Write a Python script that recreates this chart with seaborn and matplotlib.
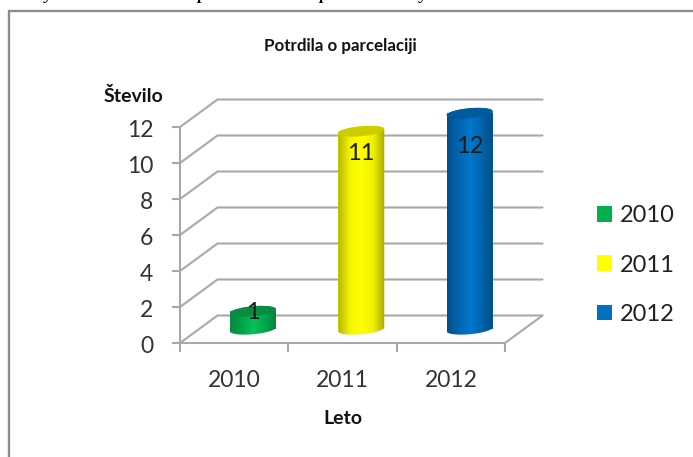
import numpy as np
import pandas as pd
import matplotlib
matplotlib.use("Agg")
import matplotlib.pyplot as plt
from matplotlib.colors import LinearSegmentedColormap
from matplotlib.lines import Line2D
from matplotlib.patches import Polygon
from matplotlib.transforms import ScaledTranslation
import seaborn as sns

years = ["2010", "2011", "2012"]
counts = [1, 11, 12]
y_ticks = [0, 2, 4, 6, 8, 10, 12]
title = "Potrdila o parcelaciji"
x_label = "Leto"
y_label = "Število"
palette = {"2010": "#00B050", "2011": "#FFFF00", "2012": "#0070C0"}
shades = {
    "2010": ["#078a42", "#00a24a", "#06c058", "#00a64b", "#05803c"],
    "2011": ["#b4b400", "#f4f400", "#ffff00", "#f0f000", "#a8a800"],
    "2012": ["#004f8a", "#0066b0", "#0078cc", "#0064ac", "#004a82"],
}
caps = {"2010": "#0a8a42", "2011": "#cccc00", "2012": "#005a9c"}
label_drop_px = [1, 22, 33]

W, H = 693, 457
sns.set_theme(style="white")
plt.rcParams["font.family"] = ["Lato", "DejaVu Sans"]
fig = plt.figure(figsize=(W / 100, H / 100), dpi=100, facecolor="white")
ax = fig.add_axes([180 / W, (H - 343) / H, 325 / W, 216 / H])
ax.patch.set_alpha(0)

df = pd.DataFrame({"Leto": years, "Stevilo": counts})
bar_w = 46 / 108.33
sns.barplot(data=df, x="Leto", y="Stevilo", hue="Leto", palette=palette, order=years,
            hue_order=years, width=bar_w, dodge=False, saturation=1, ax=ax, legend=True,
            linewidth=0, zorder=3)

ax.set_xlim(-0.5, 2.5)
ax.set_ylim(0, 12)
depth_x = 37.5 / 108.33
depth_y = 27.5 / 18.0
grid_c = "#a8a8a8"

# back wall and side wall grid
for v in y_ticks:
    ax.plot([-0.5, -0.5 + depth_x, 2.5 + depth_x], [v, v + depth_y, v + depth_y],
            color=grid_c, lw=1.5, clip_on=False, zorder=1, solid_joinstyle="miter")
ax.plot([2.5, 2.5 + depth_x], [0, depth_y], color=grid_c, lw=1.5, clip_on=False, zorder=1)

# cylinders, built from the bars seaborn placed
ell_b = 5 / 18.0
ell_s = 2 / 18.0
t_low = np.linspace(np.pi, 2 * np.pi, 60)
t_high = np.linspace(0, np.pi, 60)
t_full = np.linspace(0, 2 * np.pi, 120)
for i, (year, value) in enumerate(zip(years, counts)):
    bar = ax.patches[i]
    bar.set_x(bar.get_x() + depth_x / 2)
    bar.set_y(depth_y / 2)
    bar.set_clip_on(False)
    a = bar.get_width() / 2
    cx = bar.get_x() + a
    base = depth_y / 2
    top = base + value

    def ring(t, h):
        return np.column_stack([cx + a * np.cos(t), h + ell_b * np.sin(t) + ell_s * np.cos(t)])

    body = Polygon(np.vstack([ring(t_low, base), ring(t_high, top)]), closed=True,
                   transform=ax.transData, facecolor="none", edgecolor="none")
    ax.add_patch(body)
    body.set_clip_on(False)
    cmap = LinearSegmentedColormap.from_list(year, shades[year])
    im = ax.imshow(np.linspace(0, 1, 256).reshape(1, -1), cmap=cmap, aspect="auto",
                   extent=[cx - a, cx + a, base - 1, top + 1], zorder=4)
    im.set_clip_box(fig.bbox)
    im.set_clip_path(body)
    ax.add_patch(Polygon(ring(t_full, top), closed=True, facecolor=caps[year], edgecolor="none",
                         clip_on=False, zorder=5))
    ax.annotate(str(value), (cx, top), xytext=(0, -label_drop_px[i]), textcoords="offset pixels",
                ha="center", va="center", fontsize=17, color="#1a1a1a", zorder=6,
                annotation_clip=False)

ax.set_xlim(-0.5, 2.5)
ax.set_ylim(0, 12)

# axes, ticks and text
for s in ["top", "right"]:
    ax.spines[s].set_visible(False)
for s in ["left", "bottom"]:
    ax.spines[s].set_color(grid_c)
    ax.spines[s].set_linewidth(1.5)
ax.set_yticks(y_ticks)
ax.set_xticks([-0.5, 0.5, 1.5, 2.5])
ax.set_xticklabels([])
ax.set_xticks([0, 1, 2], minor=True)
ax.set_xticklabels(years, minor=True)
ax.tick_params(axis="y", which="major", left=True, length=5.8, width=1.5, color=grid_c, pad=13.5,
               labelsize=16.5, labelcolor="#333333")
ax.tick_params(axis="x", which="major", bottom=True, length=6.5, width=1.5, color=grid_c)
ax.tick_params(axis="x", which="minor", bottom=False, length=0, pad=19.5,
               labelsize=16.5, labelcolor="#333333")
down = ScaledTranslation(0, -1.5 / 100, fig.dpi_scale_trans)
for lab in ax.get_yticklabels():
    lab.set_transform(lab.get_transform() + down)

ax.set_xlabel(x_label, fontsize=14, fontweight="bold", color="#111111")
ax.xaxis.set_label_coords((343 - 180) / 325, (343 - 418) / 216)
ax.xaxis.label.set_va("center")
ax.set_ylabel(y_label, fontsize=14, fontweight="bold", color="#111111", rotation=0,
              ha="center", va="center")
ax.yaxis.set_label_coords((133 - 180) / 325, (343 - 96) / 216)
ax.set_title(title, fontsize=12.2, fontweight="bold", color="#111111",
             x=(340 - 180) / 325, y=(343 - 46) / 216, va="center", pad=0)

sns.move_legend(ax, "center left", bbox_to_anchor=(597 / W, (H - 265) / H),
                bbox_transform=fig.transFigure, title=None, frameon=False, fontsize=17,
                handlelength=0.63, handleheight=0.63, handletextpad=0.35, labelspacing=1.2,
                borderpad=0, borderaxespad=0)
for txt in ax.get_legend().get_texts():
    txt.set_color("#222222")

# chart frame, open on the right and at the bottom
fig.add_artist(Line2D([9 / W, 9 / W, 1], [0, (H - 11) / H, (H - 11) / H], transform=fig.transFigure,
                      color="#8c8c8c", lw=1.7, solid_joinstyle="miter"))

# descenders of the text line cut off above the chart
for x_px, ch in zip([45, 197, 319, 420], "yppy"):
    fig.text(x_px / W, (H + 1) / H, ch, fontsize=12, fontstyle="italic", fontweight="bold",
             family="Liberation Serif", color="black", va="baseline")

fig.savefig("out.png", dpi=100, facecolor="white")
